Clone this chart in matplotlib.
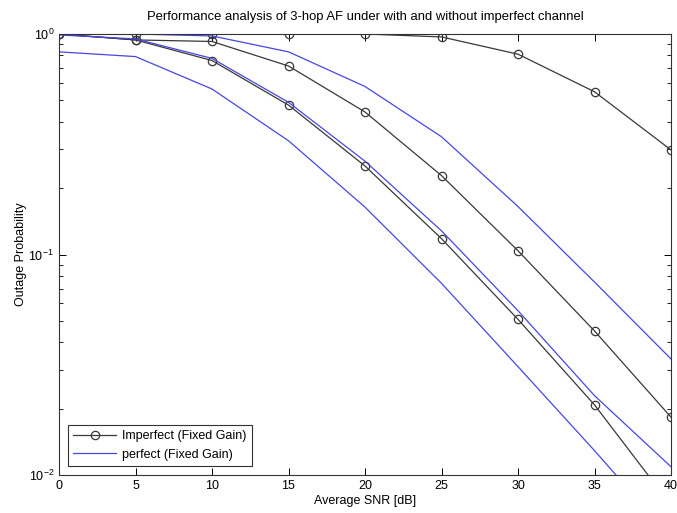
import matplotlib
matplotlib.use('Agg')
import matplotlib.pyplot as plt
import numpy as np

plt.rcParams['font.family'] = ['Liberation Sans', 'DejaVu Sans']
plt.rcParams['mathtext.fontset'] = 'custom'
plt.rcParams['mathtext.rm'] = 'Liberation Sans'

snr = [0, 5, 10, 15, 20, 25, 30, 35, 40]

# imperfect channel (fixed gain), markers
imp_a = [1.0, 1.0, 1.0, 1.0, 1.0, 0.97, 0.81, 0.547, 0.298]
imp_b = [1.0, 0.94, 0.925, 0.716, 0.443, 0.228, 0.104, 0.045, 0.0183]
imp_c = [1.0, 0.94, 0.758, 0.476, 0.252, 0.118, 0.0508, 0.0208, 0.0073]

# perfect channel (fixed gain)
per_a = [1.0, 1.0, 0.98, 0.83, 0.578, 0.342, 0.165, 0.075, 0.0336]
per_b = [0.99, 0.95, 0.775, 0.49, 0.265, 0.128, 0.0556, 0.0229, 0.0109]
per_c = [0.83, 0.79, 0.563, 0.328, 0.164, 0.074, 0.031, 0.0129, 0.0052]

blk = '#383838'
blu = '#4646e6'

fig = plt.figure(figsize=(6.77, 5.13), dpi=100)
ax = fig.add_axes([59/677, 38/513, 612/677, 441/513])

for i, yy in enumerate([imp_a, imp_b, imp_c]):
    ax.semilogy(snr, yy, '-o', color=blk, lw=0.9, ms=6, mfc='none', mew=0.9,
                label='Imperfect (Fixed Gain)' if i == 0 else None)
for i, yy in enumerate([per_a, per_b, per_c]):
    ax.semilogy(snr, yy, '-', color=blu, lw=0.9,
                label='perfect (Fixed Gain)' if i == 0 else None)

ax.set_xlim(0, 40)
ax.set_ylim(1e-2, 1)
ax.set_xticks(snr)
ax.tick_params(which='both', direction='in', top=True, right=True, labelsize=9)
ax.tick_params(which='major', length=5, width=0.7)
ax.tick_params(which='minor', length=3, width=0.6)
for s in ax.spines.values():
    s.set_linewidth(0.8)
    s.set_color('#333333')

ax.set_title('Performance analysis of 3-hop AF under with and without imperfect channel',
             fontsize=9.4, pad=10)
ax.set_xlabel('Average SNR [dB]', fontsize=9, labelpad=2)
ax.set_ylabel('Outage Probability', fontsize=9, labelpad=1)

leg = ax.legend(loc='lower left', fontsize=9, fancybox=False, edgecolor='#333333',
                framealpha=1, borderaxespad=0.7, handlelength=3.4, borderpad=0.45,
                handletextpad=0.5)
leg.get_frame().set_linewidth(0.8)

fig.savefig('out.png', dpi=100)
